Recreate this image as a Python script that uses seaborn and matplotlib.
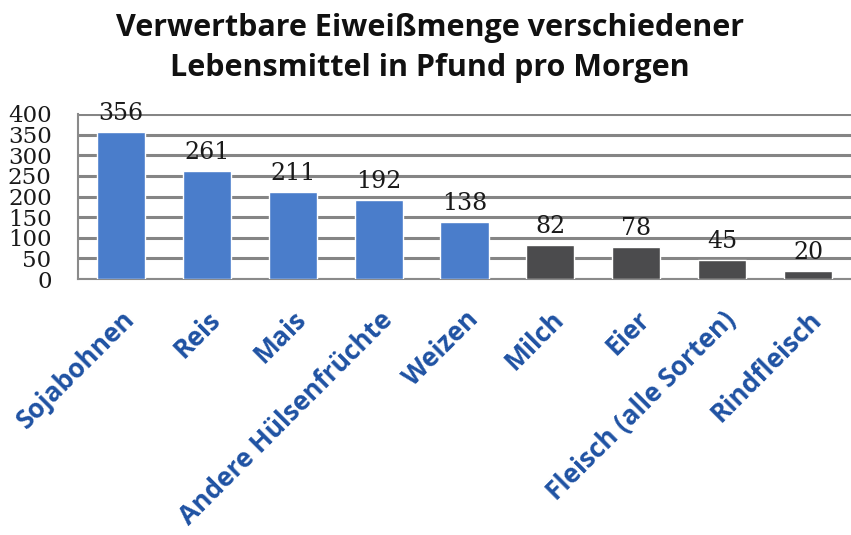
import matplotlib
matplotlib.use("Agg")
import matplotlib.pyplot as plt
import matplotlib.transforms as mtransforms
import numpy as np
import pandas as pd
import seaborn as sns

categories = ["Sojabohnen", "Reis", "Mais", "Andere Hülsenfrüchte", "Weizen",
              "Milch", "Eier", "Fleisch (alle Sorten)", "Rindfleisch"]
values = [356, 261, 211, 192, 138, 82, 78, 45, 20]
bar_colors = ["#4a7dcb"] * 5 + ["#4b4b4d"] * 4
yticks = [0, 50, 100, 150, 200, 250, 300, 350, 400]
title = "Verwertbare Eiweißmenge verschiedener\nLebensmittel in Pfund pro Morgen"

df = pd.DataFrame({"Lebensmittel": categories, "Pfund": values})

sns.set_theme(style="white")
plt.rcParams["font.family"] = ["DejaVu Sans"]

fig = plt.figure(figsize=(8.51, 5.35), dpi=100)
ax = fig.add_axes([78 / 851, 256 / 535, (851 - 78) / 851, 165 / 535])

sns.barplot(data=df, x="Lebensmittel", y="Pfund", hue="Lebensmittel",
            palette=bar_colors, width=0.56, legend=False, ax=ax, zorder=3,
            saturation=1)

ax.set_ylim(0, 400)
ax.set_xlim(-0.5, len(categories) - 0.5)
ax.set_yticks(yticks)
ax.set_yticklabels([str(t) for t in yticks], family="DejaVu Serif",
                   fontsize=16.5, color="#1a1a1a")
ax.grid(axis="y", color="#858585", linewidth=2.2, zorder=0)
ax.set_xlabel("")
ax.set_ylabel("")

for s in ["top", "right"]:
    ax.spines[s].set_visible(False)
for s in ["left", "bottom"]:
    ax.spines[s].set_color("#8a8a8a")
    ax.spines[s].set_linewidth(1.5)
ax.tick_params(axis="y", length=5, width=1.5, color="#8a8a8a", pad=14)

# category boundary ticks like Excel
ax.set_xticks(np.arange(len(categories)) + 0.5, minor=True)
ax.tick_params(axis="x", which="minor", length=5, width=1.5, color="#8a8a8a")
ax.tick_params(axis="x", which="major", length=0)

ax.set_xticks(range(len(categories)))
ax.set_xticklabels(categories, rotation=45, ha="right", rotation_mode="anchor",
                   fontsize=19, fontweight="bold", family="Open Sans",
                   color="#1f52a3")
offset = mtransforms.ScaledTranslation(0 / 100, -22 / 100, fig.dpi_scale_trans)
for lbl in ax.get_xticklabels():
    lbl.set_transform(lbl.get_transform() + offset)

for cont in ax.containers:
    ax.bar_label(cont, padding=5, fontsize=17, family="DejaVu Serif",
                 color="#1a1a1a")

fig.text(0.505, 0.975, title, ha="center", va="top", fontsize=22,
         fontweight="bold", family="Open Sans", color="#111111",
         linespacing=1.4)

fig.savefig("out.png", dpi=100)
